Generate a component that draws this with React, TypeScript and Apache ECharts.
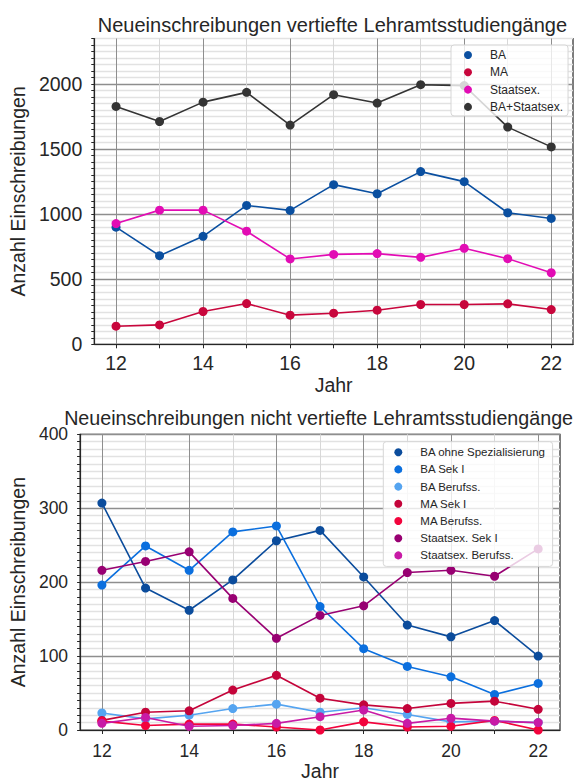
import React, { useEffect, useRef } from 'react';
import * as echarts from 'echarts';

// ---------- data ----------
const years = [12, 13, 14, 15, 16, 17, 18, 19, 20, 21, 22];
const xTickLabels = ['12', '14', '16', '18', '20', '22'];

// top chart
const topTitle = 'Neueinschreibungen vertiefte Lehramtsstudiengänge';
const topYTicks = [0, 500, 1000, 1500, 2000];
const topBA = [900, 681, 830, 1067, 1029, 1227, 1157, 1327, 1250, 1011, 967];
const topMA = [139, 149, 252, 313, 224, 239, 262, 306, 306, 311, 267];
const topStaatsex = [928, 1031, 1031, 869, 656, 691, 697, 668, 738, 658, 550];
const topBAStaatsex = [1828, 1712, 1861, 1936, 1685, 1918, 1854, 1995, 1988, 1669, 1517];

// bottom chart
const bottomTitle = 'Neueinschreibungen nicht vertiefte Lehramtsstudiengänge';
const bottomYTicks = [0, 100, 200, 300, 400];
const baOhne = [307, 192, 162, 203, 256, 270, 207, 142, 126, 148, 100];
const baSek1 = [196, 249, 216, 268, 276, 167, 110, 86, 72, 48, 63];
const baBerufss = [23, 15, 20, 29, 35, 24, 30, 21, 11, 12, 10];
const maSek1 = [13, 24, 26, 54, 74, 43, 34, 29, 36, 39, 28];
const maBerufss = [12, 6, 8, 8, 4, 0, 11, 4, 5, 13, 0];
const stSek1 = [216, 228, 241, 178, 124, 155, 168, 213, 216, 208, 245];
const stBerufss = [9, 17, 5, 6, 9, 18, 27, 9, 16, 12, 10];

const topSeries = [
  { name: 'BA', data: topBA, color: '#0a4fa0' },
  { name: 'MA', data: topMA, color: '#c8063c' },
  { name: 'Staatsex.', data: topStaatsex, color: '#e20cb4' },
  { name: 'BA+Staatsex.', data: topBAStaatsex, color: '#343434' },
];
const bottomSeries = [
  { name: 'BA ohne Spezialisierung', data: baOhne, color: '#0b4c9c' },
  { name: 'BA Sek I', data: baSek1, color: '#0b6fde' },
  { name: 'BA Berufss.', data: baBerufss, color: '#55a4f0' },
  { name: 'MA Sek I', data: maSek1, color: '#c4043a' },
  { name: 'MA Berufss.', data: maBerufss, color: '#f2033c' },
  { name: 'Staatsex. Sek I', data: stSek1, color: '#980072' },
  { name: 'Staatsex. Berufss.', data: stBerufss, color: '#c81aa6' },
];

// ---------- style ----------
const FONT = 'Liberation Sans, Arial, Helvetica, sans-serif';
const TXT = '#262626';
const MAJOR = '#8e8e8e';
const MINOR_H = '#e2e2e2';
const MINOR_V = '#d8d8d8';

// half-step category axis so that the plotted range is 11.5 .. 22.5
const xCategories: string[] = [];
for (let i = 0; i <= years.length * 2; i++) {
  xCategories.push(String(years[0] - 0.5 + i * 0.5));
}
const isYear = (v: string) => Number.isInteger(Number(v));

function xAxisCfg(gridIndex: number, fontSize: number, labelMargin: number) {
  return {
    type: 'category',
    gridIndex,
    data: xCategories,
    boundaryGap: false,
    name: 'Jahr',
    nameLocation: 'middle',
    nameGap: 31,
    nameTextStyle: { fontSize: 19.5, color: TXT, fontFamily: FONT },
    axisLine: { show: true, lineStyle: { color: TXT, width: 1.2 } },
    axisTick: {
      show: true,
      length: 4,
      interval: (_i: number, v: string) => isYear(v),
      lineStyle: { color: TXT, width: 1 },
    },
    axisLabel: {
      interval: (_i: number, v: string) => xTickLabels.includes(v),
      fontSize,
      color: TXT,
      fontFamily: FONT,
      margin: labelMargin,
    },
    splitLine: {
      show: true,
      interval: (_i: number, v: string) => isYear(v),
      lineStyle: { color: [MAJOR, MINOR_V], width: 1 },
    },
  };
}

function yAxisCfg(
  gridIndex: number,
  max: number,
  step: number,
  ticks: number[],
  fontSize: number,
  nameGap: number
) {
  const perMajor = Math.round((ticks[1] - ticks[0]) / step);
  const colors = [MAJOR];
  for (let i = 1; i < perMajor; i++) colors.push(MINOR_H);
  return {
    type: 'value',
    gridIndex,
    min: 0,
    max,
    interval: step,
    name: 'Anzahl Einschreibungen',
    nameLocation: 'middle',
    nameGap,
    nameTextStyle: { fontSize: 19.5, color: TXT, fontFamily: FONT },
    axisLine: { show: true, lineStyle: { color: TXT, width: 1.2 } },
    axisTick: { show: true, length: 3, lineStyle: { color: TXT, width: 1 } },
    axisLabel: {
      fontSize,
      color: TXT,
      fontFamily: FONT,
      margin: 12,
      showMaxLabel: true,
      showMinLabel: true,
      formatter: (v: number) => (ticks.includes(v) ? String(v) : ''),
    },
    splitLine: { show: true, lineStyle: { color: colors, width: 1.3 } },
  };
}

function legendCfg(
  names: string[],
  left: number,
  top: number,
  fontSize: number,
  gap: number,
  padding: number[]
) {
  return {
    data: names,
    orient: 'vertical',
    left,
    top,
    icon: 'circle',
    itemWidth: 8,
    itemHeight: 8,
    itemGap: gap,
    selectedMode: false,
    padding,
    backgroundColor: 'rgba(255,255,255,0.8)',
    borderColor: '#d6d6d6',
    borderWidth: 1,
    borderRadius: 3,
    textStyle: {
      fontSize,
      lineHeight: fontSize,
      color: TXT,
      fontFamily: FONT,
      padding: [0, 0, 0, 13],
    },
  };
}

function lineSeries(
  s: { name: string; data: number[]; color: string },
  axisIndex: number
) {
  return {
    type: 'line',
    name: s.name,
    xAxisIndex: axisIndex,
    yAxisIndex: axisIndex,
    data: years.map((y, i) => [String(y), s.data[i]]),
    symbol: 'circle',
    symbolSize: 9,
    showSymbol: true,
    lineStyle: { color: s.color, width: 1.6 },
    itemStyle: { color: s.color },
    emphasis: { disabled: true },
  };
}

export default function App() {
  const ref = useRef<HTMLDivElement>(null);

  useEffect(() => {
    if (!ref.current) return;
    const chart = echarts.init(ref.current, undefined, { renderer: 'svg' });
    const option = {
      animation: false,
      textStyle: { fontFamily: FONT, color: TXT },
      graphic: [
        {
          type: 'text',
          x: 332.4,
          y: 25,
          style: {
            text: topTitle,
            fontSize: 20,
            fontFamily: FONT,
            fill: TXT,
            align: 'center',
            verticalAlign: 'middle',
          },
        },
        {
          type: 'text',
          x: 318.6,
          y: 418,
          style: {
            text: bottomTitle,
            fontSize: 19.7,
            fontFamily: FONT,
            fill: TXT,
            align: 'center',
            verticalAlign: 'middle',
          },
        },
      ],
      grid: [
        {
          left: 91.7,
          top: 38.5,
          width: 481.3,
          height: 305.8,
          show: true,
          borderColor: TXT,
          borderWidth: 1.2,
          backgroundColor: 'transparent',
        },
        {
          left: 77.3,
          top: 434.3,
          width: 482.7,
          height: 298.4,
          show: true,
          borderColor: TXT,
          borderWidth: 1.2,
          backgroundColor: 'transparent',
        },
      ],
      xAxis: [xAxisCfg(0, 19.5, 9), xAxisCfg(1, 17.5, 11.5)],
      yAxis: [
        yAxisCfg(0, 2350, 50, topYTicks, 19.5, 60),
        yAxisCfg(1, 400, 10, bottomYTicks, 17.5, 46),
      ],
      legend: [
        legendCfg(topSeries.map((s) => s.name), 451, 45, 12, 5.3, [4, 5, 3, 13]),
        legendCfg(bottomSeries.map((s) => s.name), 383.3, 441.7, 11.5, 5.2, [4.5, 7, 5, 11]),
      ],
      series: [
        ...topSeries.map((s) => lineSeries(s, 0)),
        ...bottomSeries.map((s) => lineSeries(s, 1)),
      ],
    };
    chart.setOption(option as any);
    return () => chart.dispose();
  }, []);

  return (
    <div
      ref={ref}
      style={{ position: 'fixed', left: 0, top: 0, width: 576, height: 782, background: '#fff' }}
    />
  );
}
